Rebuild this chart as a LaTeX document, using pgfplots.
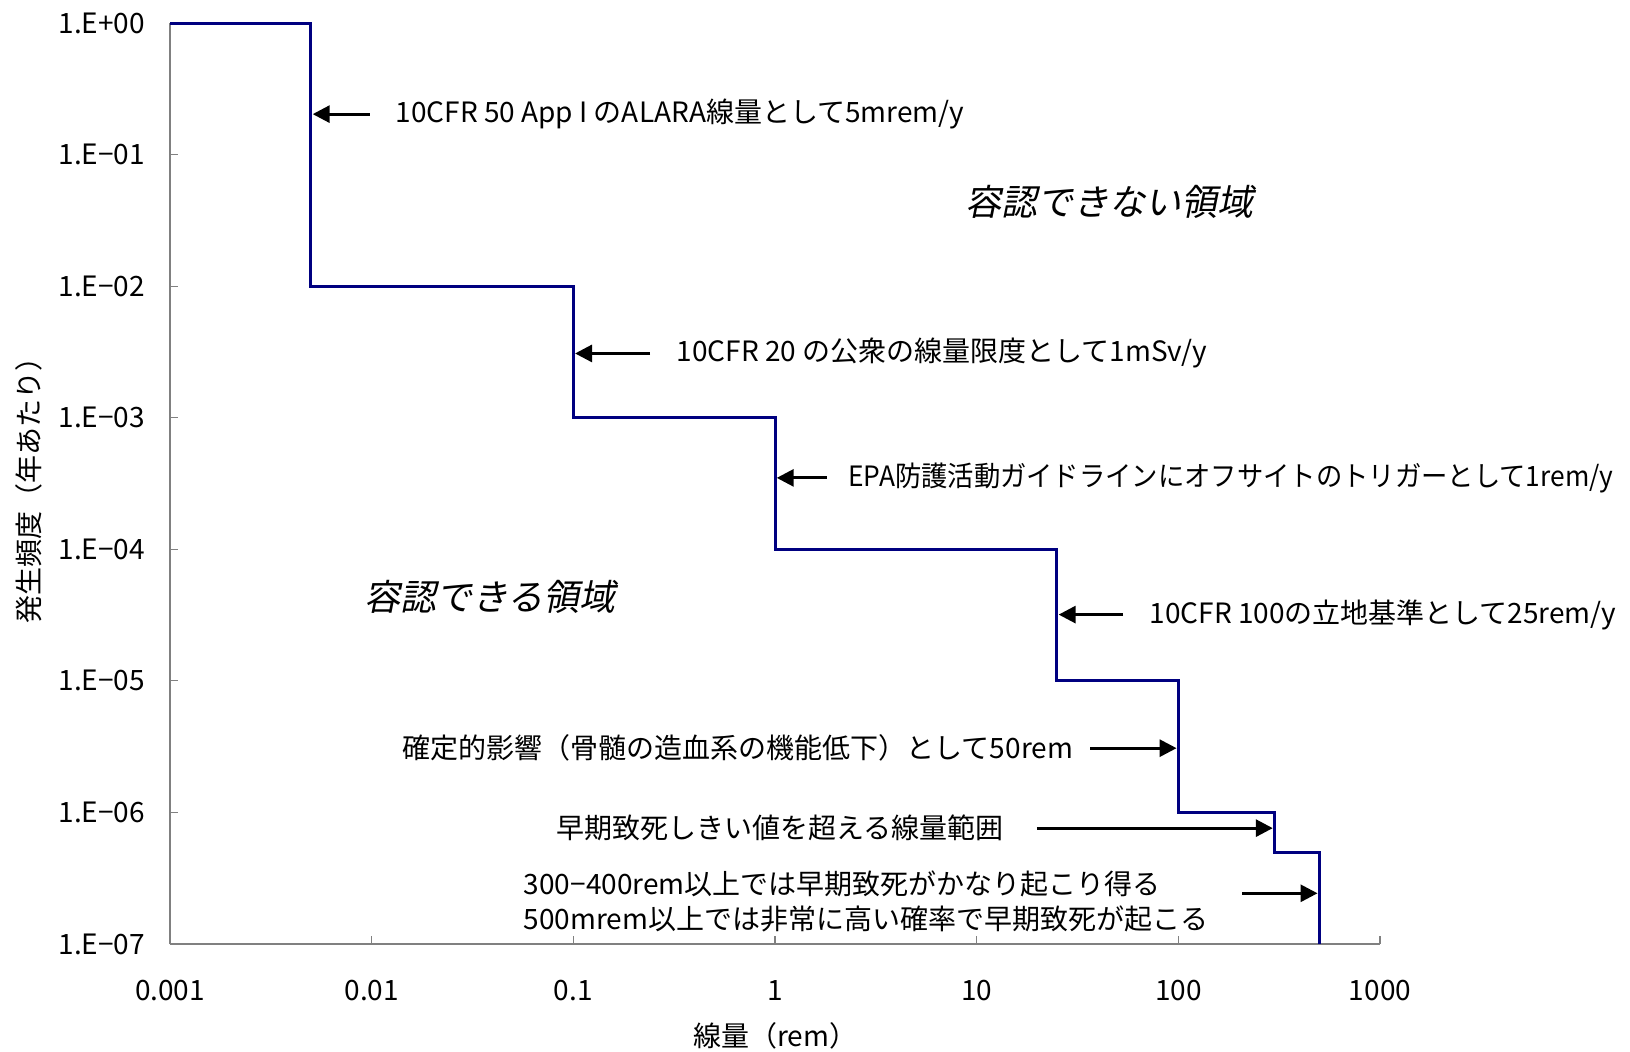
\documentclass[border=0pt]{standalone}
\usepackage{fontspec}
\setmainfont{Noto Sans CJK JP}
\newfontfamily\slantfont[FakeSlant=0.2]{Noto Sans CJK JP}
\newfontfamily\condfont[FakeStretch=0.94]{Noto Sans CJK JP}
\usepackage{pgfplots}
\pgfplotsset{compat=1.18}
\usetikzlibrary{arrows.meta}
\definecolor{navyline}{RGB}{0,0,128}
\definecolor{axgray}{RGB}{128,128,128}
\newcommand\annfont{\fontsize{14}{17.7}\selectfont}
\begin{document}
\begin{tikzpicture}
\begin{axis}[
  scale only axis, width=605pt, height=460.5pt,
  xmode=log, ymode=log,
  xmin=0.001, xmax=1000, ymin=1e-7, ymax=1,
  axis lines=left,
  axis line style={-, draw=axgray, line width=0.6pt},
  xtick={0.001,0.01,0.1,1,10,100,1000},
  xticklabels={0.001,0.01,0.1,1,10,100,1000},
  ytick={1e-7,1e-6,1e-5,1e-4,1e-3,1e-2,1e-1,1},
  yticklabels={1.E−07,1.E−06,1.E−05,1.E−04,1.E−03,1.E−02,1.E−01,1.E+00},
  xminorticks=false, yminorticks=false,
  tick align=inside, major tick length=4pt,
  tick style={draw=axgray, line width=0.6pt},
  ticklabel style={font=\fontsize{14}{16}\selectfont},
  xticklabel style={yshift=-14.5pt},
  yticklabel style={xshift=-9pt},
  xlabel={線量（rem）}, ylabel={発生頻度（年あたり）},
  every axis x label/.style={at={(rel axis cs:0.5,-0.0995)}, anchor=center, font=\fontsize{14}{16}\selectfont},
  every axis y label/.style={at={(rel axis cs:-0.1165,0.5)}, anchor=center, rotate=90, font=\fontsize{14}{16}\selectfont},
  clip=false,
]
\addplot[navyline, line width=1.5pt, mark=none, line join=miter] coordinates {
  (0.001,1) (0.005,1) (0.005,0.01) (0.1,0.01) (0.1,0.001) (1,0.001)
  (1,1e-4) (25,1e-4) (25,1e-5) (100,1e-5) (100,1e-6) (300,1e-6)
  (300,5e-7) (500,5e-7) (500,1e-7)
};
\tikzset{ann/.style={-{Triangle[length=8.5pt,width=8.5pt]}, line width=1.5pt, black}}
% arrows pointing left
\draw[ann] (axis cs:0.0098,0.203) -- (axis cs:0.0051,0.203);
\node[anchor=west, font=\annfont, inner sep=0pt] at (axis cs:0.0131,0.203) {10CFR 50 App I のALARA線量として5mrem/y};
\draw[ann] (axis cs:0.24,3.08e-3) -- (axis cs:0.102,3.08e-3);
\node[anchor=west, font=\annfont, inner sep=0pt] at (axis cs:0.324,3.08e-3) {10CFR 20 の公衆の線量限度として1mSv/y};
\draw[ann] (axis cs:1.81,3.49e-4) -- (axis cs:1.02,3.49e-4);
\node[anchor=west, font=\condfont\annfont, inner sep=0pt] at (axis cs:2.30,3.49e-4) {EPA防護活動ガイドラインにオフサイトのトリガーとして1rem/y};
\draw[ann] (axis cs:53.3,3.19e-5) -- (axis cs:25.5,3.19e-5);
\node[anchor=west, font=\annfont, inner sep=0pt] at (axis cs:71.7,3.19e-5) {10CFR 100の立地基準として25rem/y};
% arrows pointing right
\draw[ann] (axis cs:36.5,3.08e-6) -- (axis cs:98,3.08e-6);
\node[anchor=east, font=\annfont, inner sep=0pt] at (axis cs:30.2,3.08e-6) {確定的影響（骨髄の造血系の機能低下）として50rem};
\draw[ann] (axis cs:19.9,7.6e-7) -- (axis cs:294,7.6e-7);
\node[anchor=east, font=\annfont, inner sep=0pt] at (axis cs:13.6,7.6e-7) {早期致死しきい値を超える線量範囲};
\draw[ann] (axis cs:208,2.43e-7) -- (axis cs:490,2.43e-7);
\node[anchor=west, font=\annfont, inner sep=0pt, align=left] at (axis cs:0.0566,2.1e-7) {300−400rem以上では早期致死がかなり起こり得る\\500mrem以上では非常に高い確率で早期致死が起こる};
% region labels
\node[font=\slantfont\fontsize{18}{20}\selectfont] at (axis cs:45.7,0.0434) {容認できない領域};
\node[font=\slantfont\fontsize{18}{20}\selectfont] at (axis cs:0.0387,4.34e-5) {容認できる領域};
\coordinate (bbBL) at (rel axis cs:-0.1405,-0.1162);
\coordinate (bbTR) at (rel axis cs:1.2066,1.025);
\end{axis}
\pgfresetboundingbox
\path[use as bounding box] (bbBL) rectangle (bbTR);
\end{tikzpicture}
\end{document}
